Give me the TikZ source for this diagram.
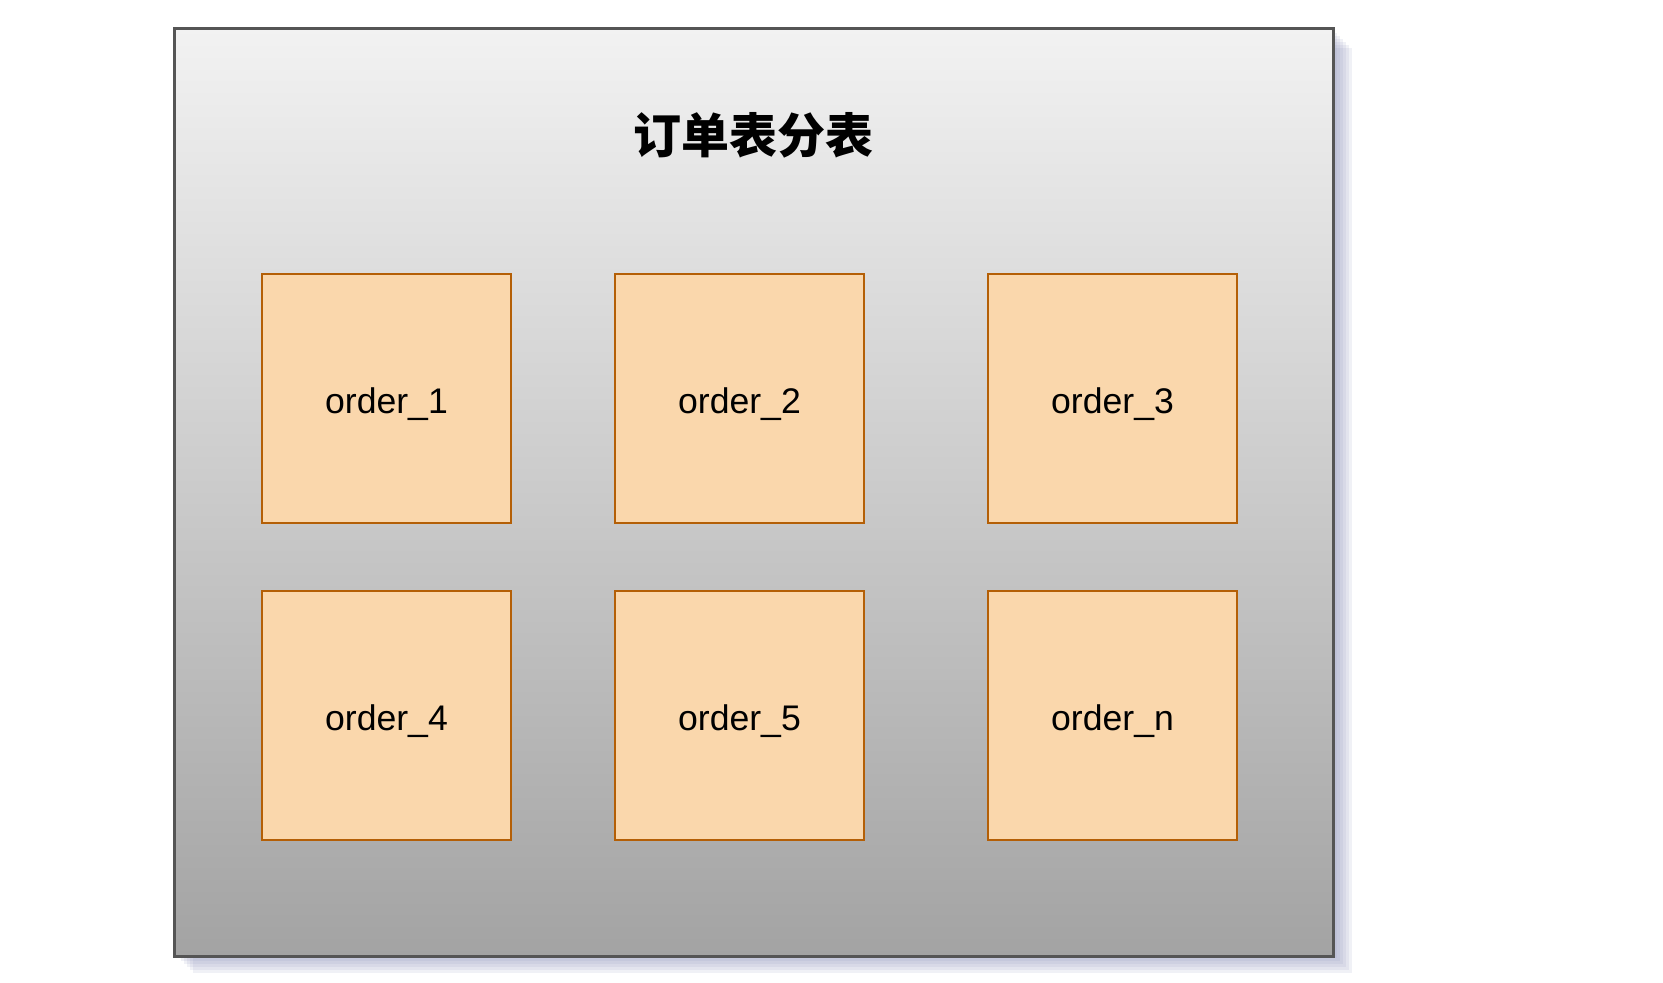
\documentclass[tikz,border=0pt]{standalone}
\usepackage{fontspec}
\setmainfont{Liberation Sans}
\newfontfamily\cjk{Noto Sans CJK SC}
\usepackage{xcolor}

\definecolor{boxfill}{RGB}{250,215,172}
\definecolor{boxline}{RGB}{180,95,6}
\definecolor{outerline}{RGB}{85,85,85}
\definecolor{shadowcol}{RGB}{140,145,185}

\tikzset{
  outerbox/.style={draw=outerline, line width=1.5pt, top color={rgb,255:red,242;green,242;blue,242},
    bottom color={rgb,255:red,163;green,163;blue,163}, minimum width=579.5pt, minimum height=464pt},
  orderbox/.style={draw=boxline, fill=boxfill, line width=1pt, minimum width=124.5pt,
    minimum height=124.5pt, text height=15pt, text depth=0pt, font=\fontsize{17.8}{20}\selectfont},
  titletext/.style={font=\cjk\bfseries\fontsize{24}{28}\selectfont}
}

\begin{document}
\begin{tikzpicture}[x=0.5pt,y=-0.5pt]

\useasboundingbox (0,0) rectangle (1663,982);

% shadow of the frame
\foreach \k in {3,6,...,18}
  \fill[shadowcol, opacity=0.13] (174.5+\k,29.5+\k) rectangle (1333.5+\k,954.5+\k);

\node[outerbox] (tables) at (754,492) {};
\node[titletext] (title) at (753,135) {订单表分表};

\node[orderbox] (order1) at (386.5,398.5) {order\_1};
\node[orderbox] (order2) at (739.5,398.5) {order\_2};
\node[orderbox] (order3) at (1112.5,398.5) {order\_3};
\node[orderbox] (order4) at (386.5,715.5) {order\_4};
\node[orderbox] (order5) at (739.5,715.5) {order\_5};
\node[orderbox] (ordern) at (1112.5,715.5) {order\_n};

\end{tikzpicture}
\end{document}
